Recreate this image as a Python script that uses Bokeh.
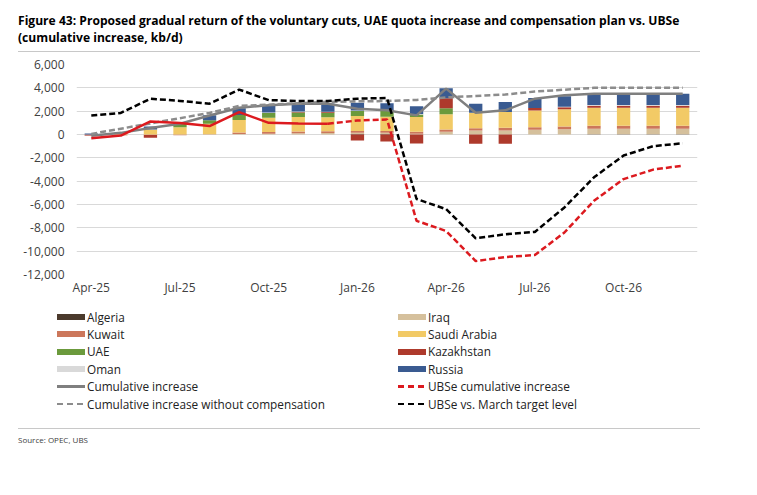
from bokeh.plotting import figure
from bokeh.models import Range1d, FixedTicker, NumeralTickFormatter, Div
from bokeh.layouts import column
from bokeh.embed import file_html
from bokeh.resources import INLINE
import numpy as np

# ---------------- data (kb/d) ----------------
months = ["Apr-25", "May-25", "Jun-25", "Jul-25", "Aug-25", "Sep-25", "Oct-25",
          "Nov-25", "Dec-25", "Jan-26", "Feb-26", "Mar-26", "Apr-26", "May-26",
          "Jun-26", "Jul-26", "Aug-26", "Sep-26", "Oct-26", "Nov-26", "Dec-26"]

algeria    = [0, 0, 0, 0, 0, 0, 0, 0, 0, 40, 40, 0, 0, 0, 0, 0, 0, 30, 30, 30, 30]
iraq       = [0, -60, 0, 0, 0, 40, 60, 100, 120, 115, 115, 60, 230, 340, 340, 400, 440, 460, 460, 460, 460]
kuwait     = [-60, -30, -40, -60, 30, 130, 150, 150, 160, 140, 140, 170, 200, 200, 230, 230, 240, 260, 260, 260, 260]
saudi      = [0, 50, 430, 630, 900, 1080, 1230, 1250, 1200, 1290, 1230, 1260, 1300, 1320, 1350, 1435, 1480, 1550, 1550, 1550, 1550]
uae        = [0, 0, 0, 280, 290, 430, 400, 390, 390, 430, 490, 230, 520, 0, 0, 0, 0, 0, 0, 0, 0]
kazakhstan = [-40, 0, -230, 0, 0, 0, 0, 40, 50, -520, -600, -780, 860, -800, -800, 200, 170, 170, 170, 170, 170]
oman       = [0, 60, 0, 0, 0, 0, 50, 50, 40, 50, 0, 40, 0, 0, 0, 0, 50, 50, 50, 50, 50]
russia     = [90, 40, 260, 80, 430, 570, 600, 620, 700, 660, 660, 660, 860, 775, 860, 860, 900, 975, 975, 975, 975]

cumulative         = [-100, 140, 550, 920, 1630, 2300, 2500, 2640, 2640, 2210, 2070,
                      1640, 3930, 1860, 2070, 3070, 3360, 3500, 3500, 3500, 3500]
cumulative_no_comp = [50, 500, 950, 1400, 1850, 2450, 2560, 2680, 2800, 2840, 2870,
                      2960, 3180, 3300, 3430, 3680, 3840, 4000, 4000, 4000, 4000]
ubse_cumulative    = [-320, -90, 1120, 980, 720, 1920, 1000, 940, 920, 1200, 1290,
                      -7400, -8270, -10850, -10500, -10330, -8400, -5680, -3820, -3010, -2670]
ubse_vs_march      = [1620, 1850, 3070, 2880, 2640, 3850, 2950, 2870, 2870, 3070, 3130,
                      -5530, -6400, -8900, -8550, -8350, -6250, -3670, -1800, -1000, -750]
n_actual = 9  # UBSe line is solid through Dec-25, dashed afterwards

y_ticks = [-12000, -10000, -8000, -6000, -4000, -2000, 0, 2000, 4000, 6000]

title_1 = "Figure 43: Proposed gradual return of the voluntary cuts, UAE quota increase and compensation plan vs. UBSe"
title_2 = "(cumulative increase, kb/d)"
source = "Source: OPEC, UBS"

# ---------------- styling ----------------
FONT = "Open Sans"
TXT = "#404040"
series = [
    ("Algeria", algeria, "#4b3a2c"),
    ("Iraq", iraq, "#d5c09c"),
    ("Kuwait", kuwait, "#cc775b"),
    ("Saudi Arabia", saudi, "#f2ca66"),
    ("UAE", uae, "#6b9a3c"),
    ("Kazakhstan", kazakhstan, "#ae3a2c"),
    ("Oman", oman, "#d9d9d9"),
    ("Russia", russia, "#3a5b91"),
]
colors = {name: c for name, _, c in series}
C_GREY = "#7f7f7f"
C_GREY_D = "#8c8c8c"
C_RED = "#dc1a1f"
C_BLACK = "#000000"

W = 757
HEAD_H, P_H, LEG_H, FOOT_H = 56, 250, 114, 75
FL, FR = 76, 697                      # frame left/right on page
FT, FB = 64 - HEAD_H, 274 - HEAD_H    # frame top/bottom inside the figure

# ---------------- header ----------------
head = Div(width=W, height=HEAD_H, margin=(0, 0, 0, 0), text=f"""
<div style="position:relative;width:{W}px;height:{HEAD_H}px;font-family:'Open Sans';color:#000;">
  <div style="position:absolute;left:18px;top:12px;font-weight:bold;font-size:12.1px;line-height:17px;white-space:nowrap;">{title_1}</div>
  <div style="position:absolute;left:18px;top:29px;font-weight:bold;font-size:12.1px;line-height:17px;white-space:nowrap;">{title_2}</div>
  <div style="position:absolute;left:18px;top:51px;width:682px;height:1px;background:#c8c8c8;"></div>
</div>""")

# ---------------- chart ----------------
n = len(months)
idx = np.arange(n)
p = figure(width=W, height=P_H, x_range=Range1d(-0.5, n - 0.5), y_range=Range1d(-12000, 6000),
           min_border_left=FL, min_border_right=W - FR, min_border_top=FT,
           min_border_bottom=P_H - FB, output_backend="svg", toolbar_location=None,
           margin=(0, 0, 0, 0))
p.outline_line_color = None
p.background_fill_color = "white"
p.border_fill_color = "white"
p.xgrid.visible = False
p.ygrid.grid_line_color = "#d9d9d9"
p.ygrid.grid_line_width = 1
p.yaxis.ticker = FixedTicker(ticks=y_ticks)
p.yaxis.formatter = NumeralTickFormatter(format="0,0")
p.xaxis.ticker = FixedTicker(ticks=list(range(0, n, 3)))
p.xaxis.major_label_overrides = {i: months[i] for i in range(0, n, 3)}
for ax in (p.xaxis[0], p.yaxis[0]):
    ax.axis_line_color = None
    ax.major_tick_line_color = None
    ax.minor_tick_line_color = None
    ax.major_tick_out = 0
    ax.major_tick_in = 0
    ax.minor_tick_out = 0
    ax.minor_tick_in = 0
    ax.major_label_text_font = FONT
    ax.major_label_text_font_size = "12px"
    ax.major_label_text_color = TXT
p.yaxis.major_label_standoff = 12
p.xaxis.major_label_standoff = 4

# stacked bars (positives stack up, negatives stack down, in series order)
pos_base = np.zeros(n)
neg_base = np.zeros(n)
for name, vals, color in series:
    v = np.array(vals, dtype=float)
    pos = np.clip(v, 0, None)
    neg = np.clip(v, None, 0)
    bottom = np.where(v >= 0, pos_base, neg_base + neg)
    top = np.where(v >= 0, pos_base + pos, neg_base)
    pos_base = pos_base + pos
    neg_base = neg_base + neg
    p.vbar(x=idx, width=0.45, bottom=bottom, top=top, fill_color=color, line_color=None)

p.line(idx, cumulative, line_color=C_GREY, line_width=2.5)
p.line(idx, cumulative_no_comp, line_color=C_GREY_D, line_width=2.5, line_dash="6 3")
p.line(idx[:n_actual], ubse_cumulative[:n_actual], line_color=C_RED, line_width=2.5)
p.line(idx[n_actual - 1:], ubse_cumulative[n_actual - 1:], line_color=C_RED,
       line_width=2.5, line_dash="6 3")
p.line(idx, ubse_vs_march, line_color=C_BLACK, line_width=2.5, line_dash="6 3")

# ---------------- legend (two columns) ----------------
legend_cols = [
    [("Algeria", "box", colors["Algeria"]), ("Kuwait", "box", colors["Kuwait"]),
     ("UAE", "box", colors["UAE"]), ("Oman", "box", colors["Oman"]),
     ("Cumulative increase", "solid", C_GREY),
     ("Cumulative increase without compensation", "dash", C_GREY_D)],
    [("Iraq", "box", colors["Iraq"]), ("Saudi Arabia", "box", colors["Saudi Arabia"]),
     ("Kazakhstan", "box", colors["Kazakhstan"]), ("Russia", "box", colors["Russia"]),
     ("UBSe cumulative increase", "dash", C_RED),
     ("UBSe vs. March target level", "dash", C_BLACK)],
]
col_left = [57, 398]
row0, row_dy = 11, 17.4     # row centres relative to legend block top
parts = []
for c, items in enumerate(legend_cols):
    x0 = col_left[c]
    for r, (label, kind, color) in enumerate(items):
        cy = row0 + r * row_dy
        if kind == "box":
            sw = (f'<div style="position:absolute;left:{x0}px;top:{cy - 3:.1f}px;width:28px;'
                  f'height:6px;background:{color};"></div>')
        elif kind == "solid":
            sw = (f'<div style="position:absolute;left:{x0}px;top:{cy - 1.25:.2f}px;width:28px;'
                  f'height:2.5px;background:{color};"></div>')
        else:
            sw = (f'<div style="position:absolute;left:{x0}px;top:{cy - 1.25:.2f}px;width:28px;'
                  f'height:2.5px;background:repeating-linear-gradient(to right,{color} 0px,'
                  f'{color} 6px,transparent 6px,transparent 10px);"></div>')
        txt = (f'<div style="position:absolute;left:{x0 + 30}px;top:{cy - 8.5:.1f}px;'
               f'font-size:11.8px;line-height:17px;white-space:nowrap;color:#222;">{label}</div>')
        parts.append(sw + txt)
legend_div = Div(width=W, height=LEG_H, margin=(0, 0, 0, 0), text=(
    f'<div style="position:relative;width:{W}px;height:{LEG_H}px;font-family:\'Open Sans\';">'
    + "".join(parts) + "</div>"))

# ---------------- footer ----------------
foot = Div(width=W, height=FOOT_H, margin=(0, 0, 0, 0), text=f"""
<div style="position:relative;width:{W}px;height:{FOOT_H}px;font-family:'Open Sans';color:{TXT};">
  <div style="position:absolute;left:18px;top:8px;width:682px;height:1px;background:#c8c8c8;"></div>
  <div style="position:absolute;left:18px;top:14px;font-size:8px;line-height:12px;white-space:nowrap;">{source}</div>
</div>""")

layout = column(head, p, legend_div, foot, spacing=0)
with open("out.html", "w") as fh:
    fh.write(file_html(layout, INLINE))
